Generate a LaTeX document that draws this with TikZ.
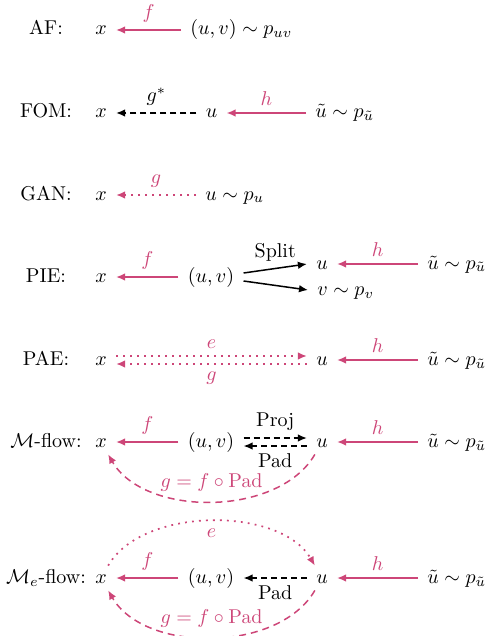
\documentclass[tikz,border=0pt]{standalone}
\usetikzlibrary{arrows.meta}
\definecolor{pk}{RGB}{205,70,120}
\begin{document}
\begin{tikzpicture}[x=0.5pt,y=-0.5pt,
  m/.style={inner xsep=4.5pt, inner ysep=1pt, text height=7.5pt, text depth=2.5pt},
  lab/.style={inner sep=0pt, text height=7.5pt, text depth=2.5pt},
  arr/.style={line width=0.75pt, -{Latex[length=4.5pt,width=3.8pt]}},
  parr/.style={arr, draw=pk},
  barr/.style={arr, draw=black},
  pl/.style={text=pk},
  pdot/.style={line width=0.85pt, dash pattern=on 0.9pt off 2.6pt},
  pdash/.style={dash pattern=on 3pt off 2pt},
  cdash/.style={dash pattern=on 3.5pt off 2.5pt}
]
\useasboundingbox (0,0) rectangle (485,636);

% AF
\node[lab] (lA) at (46,30) {AF:};
\node[m] (xA) at (101,30) {$x$};
\node[m,anchor=west] (uvA) at (181,30) {$(u,v)\sim p_{uv}$};
\draw[parr] (uvA) -- node[above,pl]{$f$} (xA);

% FOM
\node[lab] (lF) at (46,113) {FOM:};
\node[m] (xF) at (101,113) {$x$};
\node[m] (uF) at (211.5,113) {$u$};
\node[m,anchor=west] (utF) at (306,113) {$\tilde u\sim p_{\tilde u}$};
\draw[barr,pdash] (uF) -- node[above]{$g^*$} (xF);
\draw[parr] (utF) -- node[above,pl]{$h$} (uF);

% GAN
\node[lab] (lG) at (46,195) {GAN:};
\node[m] (xG) at (101,195) {$x$};
\node[m,anchor=west] (uG) at (196,195) {$u\sim p_u$};
\draw[parr,pdot] (uG) -- node[above,pl]{$g$} (xG);

% PIE
\node[lab] (lP) at (46,277) {PIE:};
\node[m] (xP) at (101,277) {$x$};
\node[m] (uvP) at (211,277) {$(u,v)$};
\node[m] (uP) at (322,264) {$u$};
\node[m,anchor=west] (vP) at (308,290) {$v\sim p_v$};
\node[m,anchor=west] (utP) at (418,264) {$\tilde u\sim p_{\tilde u}$};
\draw[parr] (uvP) -- node[above,pl]{$f$} (xP);
\draw[barr] ([yshift=2pt]uvP.east) -- node[above]{Split} (uP.west);
\draw[barr] ([yshift=-2pt]uvP.east) -- (vP.west);
\draw[parr] (utP) -- node[above,pl]{$h$} (uP);

% PAE
\node[lab] (lE) at (46,360) {PAE:};
\node[m] (xE) at (101,360) {$x$};
\node[m] (uE) at (322,360) {$u$};
\node[m,anchor=west] (utE) at (418,360) {$\tilde u\sim p_{\tilde u}$};
\draw[parr,pdot] ([yshift=2pt]xE.east) -- node[above,pl]{$e$} ([yshift=2pt]uE.west);
\draw[parr,pdot] ([yshift=-2pt]uE.west) -- node[below,pl]{$g$} ([yshift=-2pt]xE.east);
\draw[parr] (utE) -- node[above,pl]{$h$} (uE);

% M-flow
\node[lab] (lM) at (46,442) {$\mathcal{M}$-flow:};
\node[m] (xM) at (101,442) {$x$};
\node[m] (uvM) at (211,442) {$(u,v)$};
\node[m] (uM) at (322,442) {$u$};
\node[m,anchor=west] (utM) at (418,442) {$\tilde u\sim p_{\tilde u}$};
\draw[parr] (uvM) -- node[above,pl]{$f$} (xM);
\draw[barr,pdash] ([yshift=2pt]uvM.east) -- node[above]{Proj} ([yshift=2pt]uM.west);
\draw[barr,pdash] ([yshift=-2pt]uM.west) -- node[below]{Pad} ([yshift=-2pt]uvM.east);
\draw[parr] (utM) -- node[above,pl]{$h$} (uM);
\draw[parr,cdash] (uM) to[out=-120,in=-60,looseness=0.9] node[above=1.5pt,pl]{$g=f\circ\mathrm{Pad}$} (xM);

% Me-flow
\node[lab] (lN) at (46,578) {$\mathcal{M}_e$-flow:};
\node[m] (xN) at (101,578) {$x$};
\node[m] (uvN) at (211,578) {$(u,v)$};
\node[m] (uN) at (322,578) {$u$};
\node[m,anchor=west] (utN) at (418,578) {$\tilde u\sim p_{\tilde u}$};
\draw[parr] (uvN) -- node[above,pl]{$f$} (xN);
\draw[barr,pdash] (uN) -- node[below]{Pad} (uvN);
\draw[parr] (utN) -- node[above,pl]{$h$} (uN);
\draw[parr,pdot] (xN) to[out=60,in=120,looseness=0.85] node[below,pl]{$e$} (uN);
\draw[parr,cdash] (uN) to[out=-120,in=-60,looseness=0.9] node[above=1.5pt,pl]{$g=f\circ\mathrm{Pad}$} (xN);
\end{tikzpicture}
\end{document}
